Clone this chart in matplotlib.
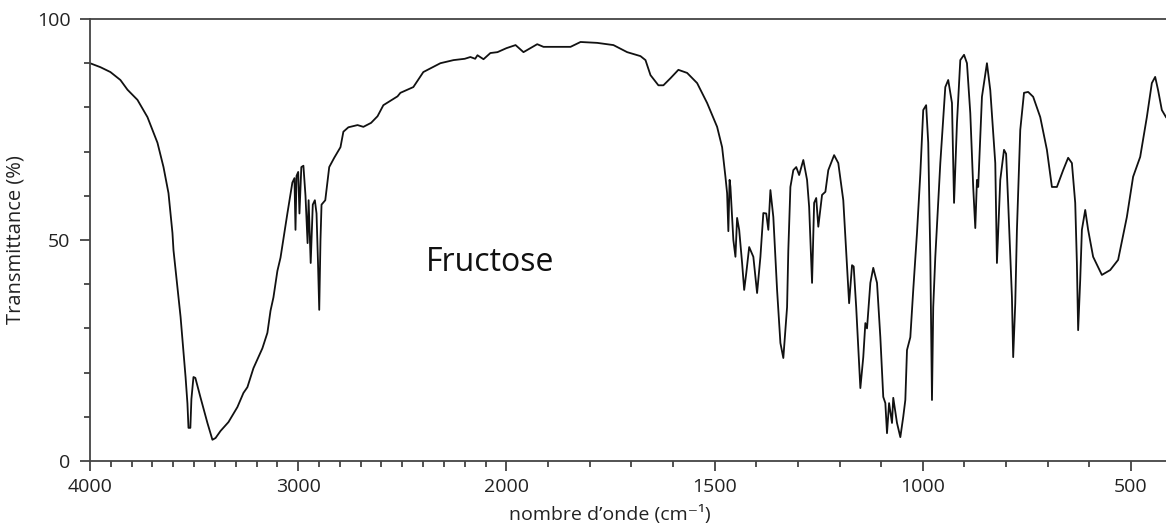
import numpy as np
import matplotlib
matplotlib.use("Agg")
import matplotlib.pyplot as plt
from matplotlib.ticker import FixedLocator

# IR spectrum of fructose (wavenumber cm-1, transmittance %)
wavenumber = [
    4000, 3950, 3902, 3854, 3820, 3772, 3724, 3676, 3647, 3623, 3604, 3599, 3565, 3541,
    3532, 3527, 3518, 3513, 3503, 3494, 3470, 3436, 3412, 3397, 3373, 3335, 3292, 3263,
    3244, 3215, 3172, 3148, 3133, 3119, 3100, 3085, 3052, 3028, 3018, 3013, 3008, 3000,
    2994, 2985, 2975, 2965, 2955, 2950, 2940, 2930, 2920, 2912, 2905, 2899, 2893, 2888,
    2870, 2851, 2827, 2797, 2783, 2759, 2715, 2687, 2650, 2619, 2591, 2523, 2509, 2447,
    2399, 2317, 2254, 2200, 2173, 2150, 2139, 2110, 2077, 2043, 2000, 1978, 1959, 1926,
    1911, 1846, 1822, 1782, 1743, 1710, 1678, 1666, 1654, 1635, 1623, 1606, 1587, 1566,
    1542, 1518, 1494, 1482, 1474, 1470, 1467, 1464, 1462, 1455, 1450, 1446, 1441, 1434,
    1429, 1424, 1417, 1407, 1398, 1390, 1383, 1376, 1371, 1366, 1359, 1350, 1342, 1335,
    1326, 1323, 1318, 1311, 1304, 1297, 1287, 1278, 1273, 1266, 1261, 1256, 1251, 1242,
    1234, 1227, 1213, 1203, 1191, 1182, 1177, 1170, 1166, 1160, 1150, 1143, 1138, 1134,
    1126, 1119, 1110, 1102, 1095, 1090, 1086, 1081, 1074, 1071, 1062, 1054, 1047, 1042,
    1038, 1030, 1023, 1014, 1006, 999, 992, 987, 982, 978, 975, 970, 958, 946, 939, 930,
    925, 918, 910, 901, 894, 886, 879, 874, 870, 867, 858, 846, 838, 826, 822, 814, 805,
    800, 795, 786, 783, 778, 774, 766, 757, 747, 735, 718, 702, 690, 678, 663, 651, 642,
    634, 630, 627, 622, 618, 610, 603, 591, 570, 550, 531, 510, 495, 478, 462, 450, 442,
    435, 426, 416,
]
transmittance = [
    90, 89.1, 88, 86.2, 84, 81.7, 77.8, 72, 66.5, 60.6, 51.6, 47.7, 32.6, 19,
    13, 7.5, 7.5, 14, 19, 18.8, 14.5, 8.6, 4.8, 5.2, 6.8, 8.8, 12.2, 15.4,
    16.7, 21, 25.5, 29, 34, 37, 43, 46, 56, 63, 64, 52.3, 64.5, 65.4,
    56, 66.5, 66.8, 60, 49.3, 59, 44.8, 58, 59, 56, 45, 34.2, 50, 58,
    59, 66.5, 68.6, 71, 74.5, 75.5, 76, 75.6, 76.5, 78, 80.5, 82.5, 83.3, 84.6,
    88, 90, 90.7, 91, 91.4, 91, 91.8, 90.9, 92.3, 92.5, 93.4, 94.1, 92.5, 94.3,
    93.7, 93.7, 94.8, 94.6, 94.1, 92.5, 91.6, 90.7, 87.3, 85, 85, 86.6, 88.5, 87.8,
    85.5, 81, 75.6, 71, 64.3, 60.6, 52, 63.6, 62, 50, 46.2, 55, 52.3, 44.8,
    38.7, 42.5, 48.4, 46.2, 38, 46.2, 56.1, 56, 52.3, 61.3, 55.2, 38.7, 26.7, 23.3,
    34.8, 47.7, 62, 65.8, 66.5, 64.7, 68.1, 63.6, 57.5, 40.3, 58.4, 59.5, 53, 60.2,
    60.9, 65.8, 69.2, 67.4, 59, 43.9, 35.7, 44.3, 44, 34.8, 16.5, 23.5, 31.2, 30,
    40.3, 43.7, 40.3, 28, 14.5, 13.1, 6.3, 13.1, 8.6, 14.3, 8.6, 5.4, 10, 13.8,
    25.1, 28, 38.7, 51.6, 65, 79.4, 80.5, 72, 46.2, 13.8, 34.8, 46.2, 67.4, 84.6, 86.2, 81,
    58.4, 76.5, 90.7, 91.9, 90, 78.7, 62, 52.7, 63.6, 62, 82.4, 90, 83.9, 67.4, 44.8, 63.6, 70.4,
    69.5, 58.4, 37.1, 23.5, 35.7, 52.3, 74.9, 83.3, 83.5, 82.4, 77.8, 70.4, 62, 62, 65.8, 68.6, 67.4,
    58.4, 44.8, 29.6, 41, 52.3, 56.8, 52.3, 46.2, 42.1, 43.2, 45.5, 55.2, 64.3, 68.8, 77.8, 85.5, 86.9,
    83.9, 79.4, 77.8,
]

major_ticks = [4000, 3000, 2000, 1500, 1000, 500]
y_ticks = [0, 50, 100]
sample_name = "Fructose"


# the wavenumber axis is compressed by two above 2000 cm-1
def forward(w):
    w = np.asarray(w, dtype=float)
    return np.where(w >= 2000, w / 2 + 1000, w)


def inverse(u):
    u = np.asarray(u, dtype=float)
    return np.where(u >= 2000, (u - 1000) * 2, u)


plt.rcParams['font.family'] = ['Open Sans', 'DejaVu Sans']

fig = plt.figure(figsize=(11.66, 5.28), dpi=100)
ax = fig.add_axes([90 / 1166, 1 - 461 / 528, 1 - 90 / 1166, (461 - 19) / 528])

ax.plot(wavenumber, transmittance, color='#111111', linewidth=1.3)

ax.set_xscale('function', functions=(forward, inverse))
ax.set_xlim(4000, 416)
ax.set_ylim(0, 100)

ax.xaxis.set_major_locator(FixedLocator(major_ticks))
ax.xaxis.set_minor_locator(FixedLocator(list(range(400, 4001, 100))))
ax.yaxis.set_major_locator(FixedLocator(y_ticks))
ax.yaxis.set_minor_locator(FixedLocator(list(range(0, 101, 10))))

ax.tick_params(axis='both', which='major', length=7, width=1.2, color='#333333',
               labelsize=14, labelcolor='#222222')
ax.tick_params(axis='both', which='minor', length=4, width=1.2, color='#333333')
ax.tick_params(axis='y', which='major', pad=7)
ax.tick_params(axis='x', which='major', pad=5)

for side in ['left', 'bottom', 'top']:
    ax.spines[side].set_color('#444444')
    ax.spines[side].set_linewidth(1.3)
ax.spines['right'].set_visible(False)

ax.set_xlabel('nombre d\u2019onde (cm\u207b\u00b9)', fontsize=14, color='#222222')
ax.xaxis.set_label_coords(0.483, -0.1)
ax.set_ylabel('Transmittance (%)', fontsize=14.5, color='#222222')
ax.yaxis.set_label_coords(-0.06, 0.5)

ax.text(2077, 44.8, sample_name, fontsize=23, color='#111111', ha='center', va='center')

fig.savefig('out.png', dpi=100)
